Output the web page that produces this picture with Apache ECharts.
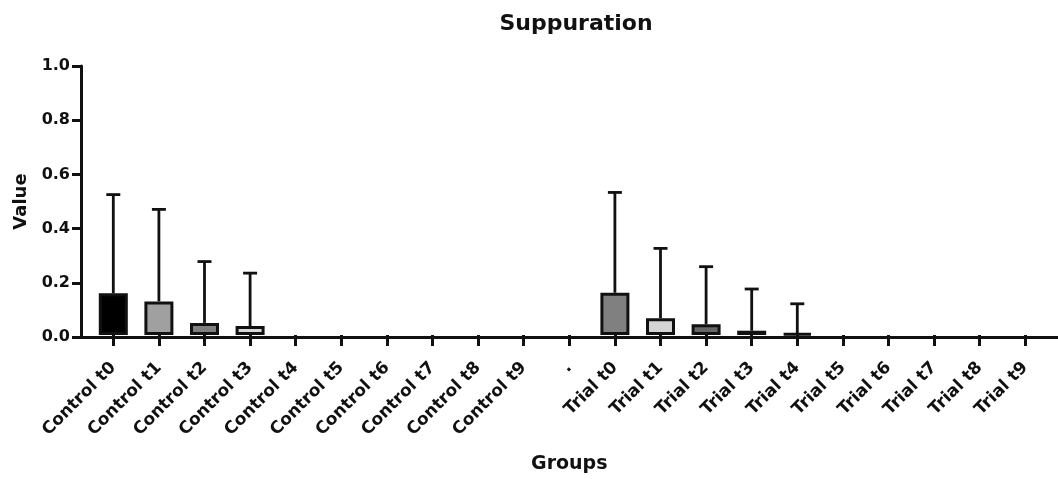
<!DOCTYPE html>
<html>
<head>
<meta charset="utf-8">
<title>Suppuration</title>
<script src="https://cdn.jsdelivr.net/npm/echarts@6/dist/echarts.min.js"></script>
<style>
  html, body { margin: 0; padding: 0; background: #fff; }
  #chart { width: 1058px; height: 479px; }
</style>
</head>
<body>
<div id="chart"></div>
<script>
// Group labels along the x axis ("." is the spacer between the two arms)
const categories = [
  'Control t0', 'Control t1', 'Control t2', 'Control t3', 'Control t4',
  'Control t5', 'Control t6', 'Control t7', 'Control t8', 'Control t9',
  '.',
  'Trial t0', 'Trial t1', 'Trial t2', 'Trial t3', 'Trial t4',
  'Trial t5', 'Trial t6', 'Trial t7', 'Trial t8', 'Trial t9'
];

// Mean suppuration score per group
const means = [
  0.155, 0.125, 0.045, 0.033, 0, 0, 0, 0, 0, 0,
  0,
  0.157, 0.062, 0.040, 0.016, 0.006, 0, 0, 0, 0, 0
];

// Standard deviation per group (upper error bar only)
const sds = [
  0.367, 0.342, 0.228, 0.197, 0, 0, 0, 0, 0, 0,
  0,
  0.373, 0.260, 0.214, 0.155, 0.110, 0, 0, 0, 0, 0
];

// Y axis tick values
const yTicks = [0, 0.2, 0.4, 0.6, 0.8, 1.0];

// Fill shades for each bar
const fills = [
  '#000000', '#a0a0a0', '#7f7f7f', '#d8d8d8', '#ffffff', '#ffffff', '#ffffff', '#ffffff', '#ffffff', '#ffffff',
  '#ffffff',
  '#808080', '#d4d4d4', '#666666', '#dedede', '#999999', '#ffffff', '#ffffff', '#ffffff', '#ffffff', '#ffffff'
];

const FONT = 'DejaVu Sans';
const INK = '#111111';

const chart = echarts.init(document.getElementById('chart'), null, { renderer: 'canvas' });

// zero means leave an empty slot: no outlined sliver on the baseline
const barData = means.map((v, i) => ({
  value: v > 0 ? v : '-',
  itemStyle: { color: fills[i] }
}));

const errData = means.map((v, i) => [i, v, v + sds[i]]);

chart.setOption({
  animation: false,
  backgroundColor: '#ffffff',
  title: {
    text: 'Suppuration',
    left: 571,
    top: 8,
    textAlign: 'center',
    textStyle: { fontFamily: FONT, fontWeight: 'bold', fontSize: 22, color: INK }
  },
  grid: [
    // frame grid: carries the full-length axis lines and the y scale
    { left: 81, right: 0, top: 66, height: 271, containLabel: false },
    // bar grid: category bands for the 21 groups
    { left: 90.5, right: 9.9, top: 66, height: 271, containLabel: false }
  ],
  xAxis: [
    {
      gridIndex: 0,
      type: 'value',
      min: 0,
      max: 1,
      axisLine: { show: true, onZero: false, lineStyle: { color: INK, width: 3 } },
      axisTick: { show: false },
      axisLabel: { show: false },
      splitLine: { show: false }
    },
    {
      gridIndex: 1,
      type: 'category',
      data: categories,
      boundaryGap: true,
      axisLine: { show: false },
      axisTick: { show: true, alignWithLabel: true, length: 11, lineStyle: { color: INK, width: 3 } },
      axisLabel: {
        interval: 0,
        rotate: 45,
        margin: 30,
        fontFamily: FONT,
        fontWeight: 'bold',
        fontSize: 17,
        color: INK
      },
      name: 'Groups',
      nameLocation: 'middle',
      nameGap: 120,
      nameTextStyle: { fontFamily: FONT, fontWeight: 'bold', fontSize: 19, color: INK },
      splitLine: { show: false }
    }
  ],
  yAxis: [
    {
      gridIndex: 0,
      type: 'value',
      min: yTicks[0],
      max: yTicks[yTicks.length - 1],
      interval: 0.2,
      axisLine: { show: true, lineStyle: { color: INK, width: 3 } },
      axisTick: { show: true, length: 9, lineStyle: { color: INK, width: 3 } },
      axisLabel: {
        margin: 11,
        fontFamily: FONT,
        fontWeight: 'bold',
        fontSize: 16,
        color: INK,
        formatter: v => v.toFixed(1)
      },
      splitLine: { show: false },
      name: 'Value',
      nameLocation: 'middle',
      nameGap: 46,
      nameTextStyle: { fontFamily: FONT, fontWeight: 'bold', fontSize: 18, color: INK }
    },
    {
      gridIndex: 1,
      type: 'value',
      min: yTicks[0],
      max: yTicks[yTicks.length - 1],
      interval: 0.2,
      show: false
    }
  ],
  series: [
    {
      type: 'bar',
      xAxisIndex: 1,
      yAxisIndex: 1,
      data: barData,
      barWidth: 29,
      itemStyle: { borderColor: INK, borderWidth: 3 },
      z: 2
    },
    {
      type: 'custom',
      xAxisIndex: 1,
      yAxisIndex: 1,
      data: errData,
      z: 3,
      renderItem: function (params, api) {
        const i = api.value(0);
        const lo = api.value(1);
        const hi = api.value(2);
        if (!(hi > lo)) return null;
        const p0 = api.coord([i, lo]);
        const p1 = api.coord([i, hi]);
        const cap = 7;
        const style = { stroke: INK, lineWidth: 2.8, fill: null };
        return {
          type: 'group',
          children: [
            { type: 'line', shape: { x1: p0[0], y1: p0[1], x2: p1[0], y2: p1[1] }, style: style },
            { type: 'line', shape: { x1: p1[0] - cap, y1: p1[1], x2: p1[0] + cap, y2: p1[1] }, style: style }
          ]
        };
      }
    }
  ]
});
</script>
</body>
</html>
